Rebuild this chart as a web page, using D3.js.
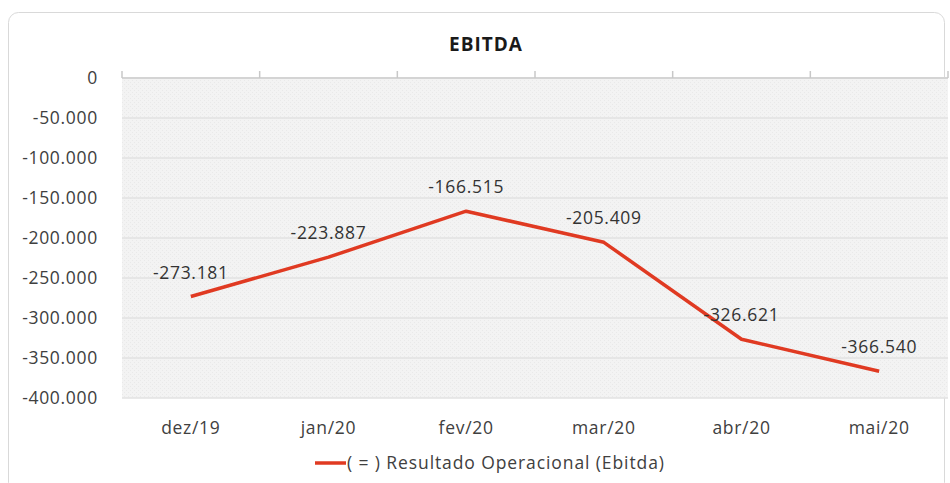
<!DOCTYPE html>
<html>
<head>
<meta charset="utf-8">
<script src="https://cdn.jsdelivr.net/npm/d3@7"></script>
<style>
  body { margin: 0; background: #fff; }
  text { font-family: "Open Sans", sans-serif; }
</style>
</head>
<body>
<div id="chart"></div>
<script>
var months = ["dez/19", "jan/20", "fev/20", "mar/20", "abr/20", "mai/20"];
var ebitda = [-273181, -223887, -166515, -205409, -326621, -366540];
var yTicks = [0, -50000, -100000, -150000, -200000, -250000, -300000, -350000, -400000];
var seriesName = "( = ) Resultado Operacional (Ebitda)";

var svgWidth = 950;
var svgHeight = 483;
var margin = { top: 78, right: 2, bottom: 85, left: 122 };
var width = svgWidth - margin.left - margin.right;
var height = svgHeight - margin.top - margin.bottom;

var svg = d3.select("#chart").append("svg")
  .attr("width", svgWidth)
  .attr("height", svgHeight);

// outer frame
svg.append("rect")
  .attr("x", 8.5).attr("y", 12.5)
  .attr("width", 936).attr("height", 480)
  .attr("rx", 10)
  .attr("fill", "#fff")
  .attr("stroke", "#d9d9d9");

// pattern for plot area
var defs = svg.append("defs");
var pat = defs.append("pattern")
  .attr("id", "dots")
  .attr("width", 4).attr("height", 4)
  .attr("patternUnits", "userSpaceOnUse");
pat.append("rect").attr("width", 4).attr("height", 4).attr("fill", "#f3f3f3");
pat.append("rect").attr("width", 1).attr("height", 1).attr("fill", "#e9e9e9");
pat.append("rect").attr("x", 2).attr("y", 2).attr("width", 1).attr("height", 1).attr("fill", "#e9e9e9");

var chartGroup = svg.append("g")
  .attr("transform", `translate(${margin.left}, ${margin.top})`);

var x = d3.scaleBand().domain(months).range([0, width]);
var y = d3.scaleLinear().domain([-400000, 0]).range([height, 0]);

chartGroup.append("rect")
  .attr("width", width).attr("height", height)
  .attr("fill", "url(#dots)");

// gridlines
chartGroup.append("g")
  .selectAll("line")
  .data(yTicks.filter(d => d !== 0))
  .enter().append("line")
  .attr("x1", 0).attr("x2", width)
  .attr("y1", d => y(d)).attr("y2", d => y(d))
  .attr("stroke", "#e2e2e2")
  .attr("stroke-width", 1.5);

// y axis labels
var fmt = d => d === 0 ? "0" : d3.format(",")(d).replace(/,/g, ".").replace("−", "-");
var leftAxis = d3.axisLeft(y).tickValues(yTicks).tickFormat(fmt).tickSize(0).tickPadding(24);
var yAxis = chartGroup.append("g").call(leftAxis);
yAxis.select(".domain").remove();
yAxis.selectAll("text")
  .attr("fill", "#404040")
  .style("font-size", "17.5px")
  .style("letter-spacing", "0.7px");

// category axis at zero, ticks upward
var boundaries = months.map(m => x(m)).concat([width]);
chartGroup.append("line")
  .attr("x1", 0).attr("x2", width)
  .attr("y1", y(0)).attr("y2", y(0))
  .attr("stroke", "#d4d4d4").attr("stroke-width", 2);
chartGroup.append("g").selectAll("line")
  .data(boundaries).enter().append("line")
  .attr("x1", d => d).attr("x2", d => d)
  .attr("y1", y(0) - 7).attr("y2", y(0))
  .attr("stroke", "#c8c8c8").attr("stroke-width", 1.5);

// x labels under plot
chartGroup.append("g").selectAll("text")
  .data(months).enter().append("text")
  .attr("x", d => x(d) + x.bandwidth() / 2)
  .attr("y", height + 36)
  .attr("text-anchor", "middle")
  .attr("fill", "#404040")
  .style("font-size", "17.5px")
  .style("letter-spacing", "0.7px")
  .text(d => d);

// line
var line = d3.line()
  .x((d, i) => x(months[i]) + x.bandwidth() / 2)
  .y(d => y(d));
chartGroup.append("path")
  .datum(ebitda)
  .attr("d", line)
  .attr("fill", "none")
  .attr("stroke", "#e03a22")
  .attr("stroke-width", 3.5)
  .attr("stroke-linejoin", "round");

// data labels
chartGroup.append("g").selectAll("text")
  .data(ebitda).enter().append("text")
  .attr("x", (d, i) => x(months[i]) + x.bandwidth() / 2)
  .attr("y", d => y(d) - 18)
  .attr("text-anchor", "middle")
  .attr("fill", "#333")
  .style("font-size", "17.5px")
  .style("letter-spacing", "0.7px")
  .text(d => fmt(d));

// title
svg.append("text")
  .attr("x", 486).attr("y", 51)
  .attr("text-anchor", "middle")
  .attr("fill", "#1a1a1a")
  .style("font-size", "19px")
  .style("font-weight", "bold")
  .style("letter-spacing", "1px")
  .text("EBITDA");

// legend
var legend = svg.append("g").attr("transform", "translate(315, 463)");
legend.append("line")
  .attr("x1", 0).attr("x2", 31)
  .attr("stroke", "#e03a22").attr("stroke-width", 3.5);
legend.append("text")
  .attr("x", 32).attr("y", 6)
  .attr("fill", "#404040")
  .style("font-size", "17.5px")
  .style("letter-spacing", "0.9px")
  .text(seriesName);
</script>
</body>
</html>
